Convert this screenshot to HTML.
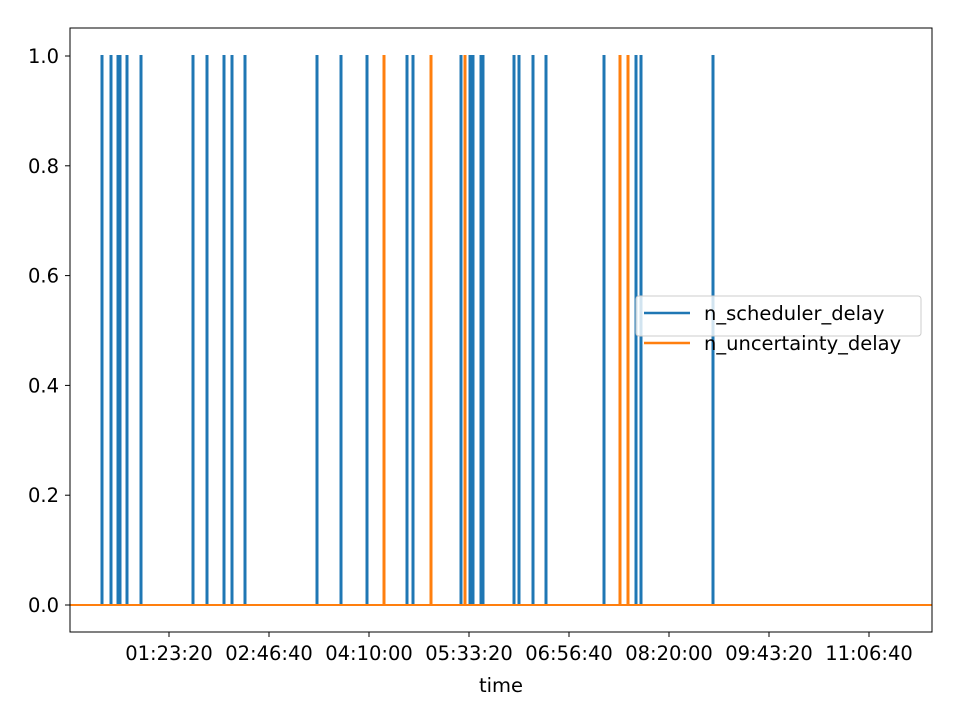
<!DOCTYPE html>
<html><head><meta charset="utf-8"><style>
body{margin:0;background:#fff;font-family:"DejaVu Sans","Liberation Sans",sans-serif}
</style></head><body>
<svg width="960" height="720" xmlns="http://www.w3.org/2000/svg" font-family="DejaVu Sans, Liberation Sans, sans-serif">
<rect width="960" height="720" fill="#fff"/>
<g id="plot"></g>
<rect x="70" y="28" width="862" height="604" fill="none" stroke="#000" stroke-width="1"/>
<g id="axes" font-size="19.5"></g>
<text x="501" y="692" text-anchor="middle" font-size="19.5">time</text>
<g>
<rect x="636" y="296" width="285" height="40" fill="#fff" fill-opacity="0.8" stroke="#ccc" rx="3"/>
<line x1="644" y1="313" x2="690" y2="313" stroke="#1f77b4" stroke-width="2.5"/>
<text x="704" y="320" font-size="19.5">n_scheduler_delay</text>
<line x1="644" y1="343" x2="690" y2="343" stroke="#ff7f0e" stroke-width="2.5"/>
<text x="704" y="350" font-size="19.5">n_uncertainty_delay</text>
</g>
</svg>
<script>
const blueTimes=[1650,2100,2450,2550,2900,3600,6200,6900,7750,8150,8800,12400,13600,14900,16900,17200,19600,20050,20200,20600,20700,22250,22500,23200,23850,26750,28350,28600,32200];
const orangeTimes=[15750,18100,19800,27550,27950];
const yTicks=[0.0,0.2,0.4,0.6,0.8,1.0];
const xTickSecs=[5000,10000,15000,20000,25000,30000,35000,40000];
const xTickLabels=["01:23:20","02:46:40","04:10:00","05:33:20","06:56:40","08:20:00","09:43:20","11:06:40"];
const tMax=43150;
const NS="http://www.w3.org/2000/svg";
const X=t=>69+t/50;
const Y=v=>605-v*549;
const plot=document.getElementById('plot'),axes=document.getElementById('axes');
function series(times,color,name){
  let d=`M70 ${Y(0)}`;
  times.slice().sort((a,b)=>a-b).forEach(t=>{const x=X(t);d+=` L${x-0.5} ${Y(0)} L${x-0.5} ${Y(1)} L${x+0.5} ${Y(1)} L${x+0.5} ${Y(0)}`;});
  d+=` L${X(tMax)} ${Y(0)}`;
  const p=document.createElementNS(NS,'path');
  p.setAttribute('d',d);p.setAttribute('fill','none');p.setAttribute('stroke',color);p.setAttribute('stroke-width','2');
  
  
  plot.appendChild(p);
}
series(blueTimes,'#1f77b4','series-scheduler-delay');
series(orangeTimes,'#ff7f0e','series-uncertainty-delay');
yTicks.forEach(v=>{
  const l=document.createElementNS(NS,'line');l.setAttribute('x1',65);l.setAttribute('x2',70);l.setAttribute('y1',Y(v));l.setAttribute('y2',Y(v));l.setAttribute('stroke','#000');
  
  
  axes.appendChild(l);
  const t=document.createElementNS(NS,'text');t.setAttribute('x',59);t.setAttribute('y',Y(v)+7);t.setAttribute('text-anchor','end');t.textContent=v.toFixed(1);
  
  
  axes.appendChild(t);
});
xTickSecs.forEach((s,i)=>{
  const x=X(s);
  const l=document.createElementNS(NS,'line');l.setAttribute('x1',x);l.setAttribute('x2',x);l.setAttribute('y1',632);l.setAttribute('y2',637);l.setAttribute('stroke','#000');
  
  
  axes.appendChild(l);
  const t=document.createElementNS(NS,'text');t.setAttribute('x',x);t.setAttribute('y',660);t.setAttribute('text-anchor','middle');t.textContent=xTickLabels[i];
  
  
  axes.appendChild(t);
});
</script>
</body></html>
